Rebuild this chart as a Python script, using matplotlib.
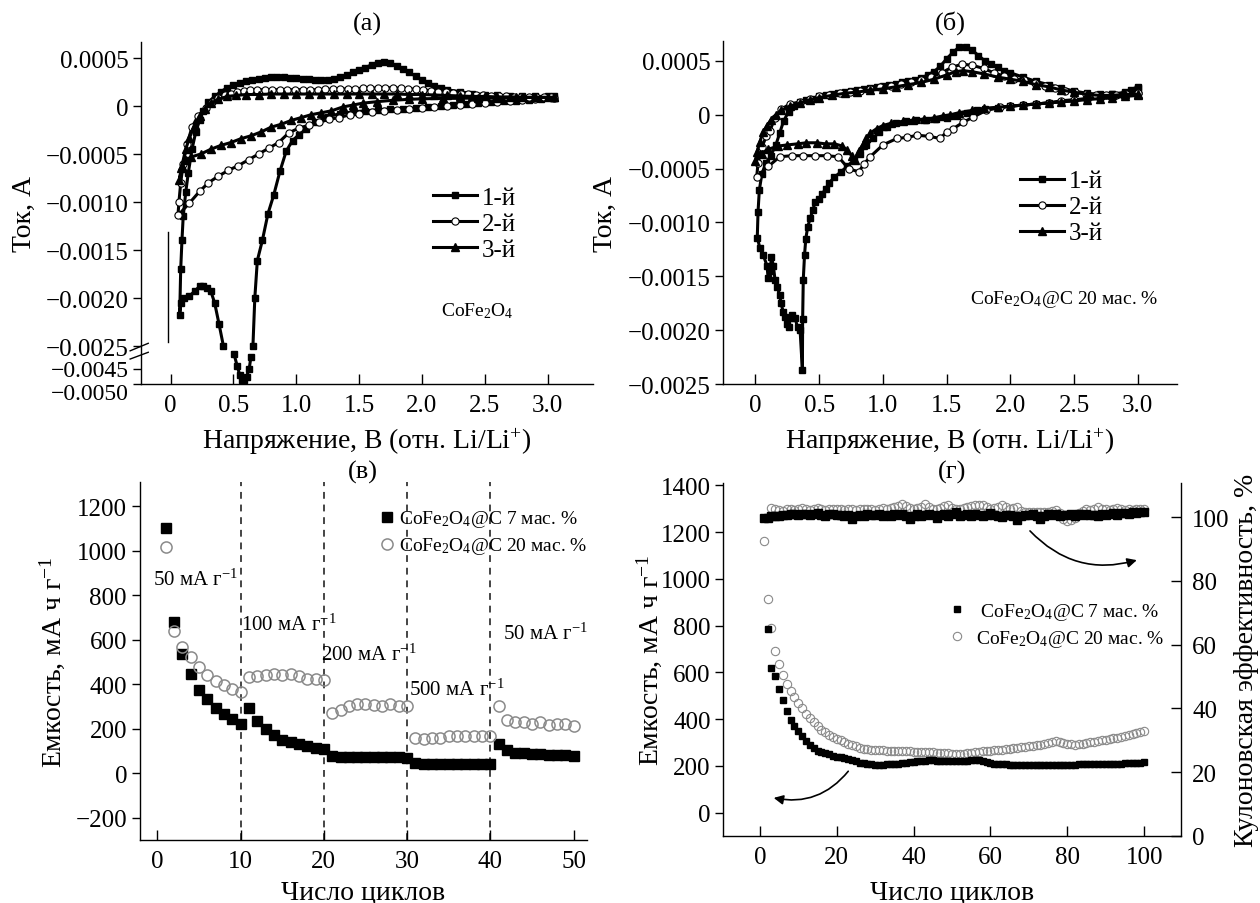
import numpy as np
import matplotlib
matplotlib.use('Agg')
import matplotlib.pyplot as plt
from matplotlib.transforms import ScaledTranslation

plt.rcParams['font.family'] = ['Liberation Serif', 'DejaVu Serif']
plt.rcParams['mathtext.fontset'] = 'custom'
plt.rcParams['mathtext.rm'] = 'Liberation Serif'
plt.rcParams['mathtext.it'] = 'Liberation Serif:italic'
plt.rcParams['mathtext.bf'] = 'Liberation Serif:bold'
nan = np.nan

# ---------------- Panel (а): CoFe2O4 CV, current in 1e-4 A ----------------
a1_v = [3.05, 2.95, 2.85, 2.75, 2.65, 2.55, 2.45, 2.35, 2.25, 2.15, 2.05, 1.95, 1.85, 1.75,
        1.65, 1.55, 1.45, 1.35, 1.25, 1.15, 1.08, 1.02, 0.97, 0.92, 0.87, 0.82, 0.775, 0.73,
        0.69, 0.67, 0.655, nan,
        0.639, 0.625, 0.605, 0.585, 0.567, 0.55, 0.53, 0.504, nan,
        0.42, 0.385, 0.35, 0.32, 0.29, 0.26, 0.23, 0.19, 0.15, 0.11, 0.08, 0.072,
        0.08, 0.09, 0.10, 0.12, 0.14, 0.17, 0.20, 0.23, 0.26, 0.30, 0.35, 0.40, 0.45, 0.50,
        0.55, 0.60, 0.65, 0.70, 0.75, 0.80, 0.85, 0.90, 0.95, 1.00, 1.05, 1.10, 1.15, 1.20,
        1.25, 1.30, 1.35, 1.40, 1.45, 1.50, 1.55, 1.60, 1.65, 1.70, 1.75, 1.80, 1.85, 1.90,
        1.95, 2.00, 2.05, 2.10, 2.15, 2.20, 2.30, 2.40, 2.50, 2.60, 2.70, 2.80, 2.90, 3.00, 3.05]
a1_i = [0.8, 0.7, 0.6, 0.5, 0.5, 0.4, 0.3, 0.2, 0.1, 0.0, -0.1, -0.2, -0.3, -0.3,
        -0.4, -0.5, -0.6, -0.8, -1.1, -1.7, -2.4, -3.0, -3.6, -4.7, -6.8, -9.3, -11.2, -14.0,
        -16.1, -20.0, -25.0, nan,
        -41.0, -45.0, -47.5, -48.5, -48.5, -47.0, -44.0, -40.0, nan,
        -25.0, -22.7, -20.5, -19.3, -19.0, -18.7, -18.8, -19.3, -19.8, -20.0, -20.5, -21.8,
        -17.0, -14.0, -11.5, -9.0, -7.0, -4.5, -2.7, -1.5, -0.5, 0.4, 1.0, 1.5, 1.9, 2.2,
        2.4, 2.6, 2.7, 2.8, 2.9, 3.0, 3.0, 3.0, 2.9, 2.9, 2.8, 2.8, 2.7, 2.7,
        2.7, 2.8, 3.0, 3.2, 3.5, 3.8, 4.0, 4.3, 4.5, 4.6, 4.5, 4.2, 3.9, 3.5,
        3.1, 2.7, 2.4, 2.1, 1.9, 1.7, 1.5, 1.3, 1.2, 1.1, 1.0, 1.0, 1.0, 1.0, 1.0]

a2_v = [3.05, 2.9, 2.8, 2.7, 2.6, 2.5, 2.4, 2.3, 2.2, 2.1, 2.0, 1.9, 1.8, 1.7, 1.6, 1.5,
        1.43, 1.34, 1.26, 1.18, 1.10, 1.02, 0.94, 0.86, 0.78, 0.70, 0.62, 0.54, 0.46, 0.38,
        0.30, 0.23, 0.15, 0.058,
        0.066, 0.08, 0.10, 0.13, 0.17, 0.22, 0.28, 0.33, 0.38, 0.43, 0.48, 0.53, 0.58, 0.63,
        0.69, 0.75, 0.81, 0.87, 0.93, 0.99, 1.05, 1.11, 1.17, 1.23, 1.29, 1.35, 1.41, 1.47,
        1.53, 1.59, 1.65, 1.71, 1.77, 1.83, 1.89, 1.95, 2.01, 2.07, 2.13, 2.19, 2.25, 2.31,
        2.37, 2.43, 2.49, 2.55, 2.61, 2.67, 2.73, 2.79, 2.85, 2.91, 2.97, 3.03]
a2_i = [0.8, 0.7, 0.6, 0.5, 0.4, 0.3, 0.2, 0.1, 0.0, -0.1, -0.2, -0.3, -0.4, -0.5, -0.6, -0.8,
        -0.9, -1.2, -1.4, -1.7, -2.0, -2.3, -2.8, -3.8, -4.4, -5.0, -5.6, -6.2, -6.7, -7.3,
        -8.0, -8.9, -10.1, -11.4,
        -10.0, -8.0, -6.0, -4.0, -2.2, -1.0, -0.2, 0.4, 0.8, 1.1, 1.3, 1.5, 1.6, 1.7,
        1.7, 1.7, 1.7, 1.7, 1.7, 1.7, 1.7, 1.7, 1.7, 1.75, 1.75, 1.75, 1.8, 1.8,
        1.85, 1.85, 1.9, 1.9, 1.9, 1.85, 1.8, 1.75, 1.7, 1.6, 1.5, 1.45, 1.4, 1.3,
        1.25, 1.2, 1.1, 1.05, 1.0, 1.0, 0.95, 0.9, 0.9, 0.9, 0.9, 0.95]

a3_v = [3.05, 2.9, 2.75, 2.6, 2.45, 2.3, 2.17, 2.0, 1.9, 1.77, 1.64, 1.53, 1.45, 1.37,
        1.28, 1.20, 1.12, 1.04, 0.96, 0.88, 0.80, 0.72, 0.64, 0.56, 0.48, 0.40, 0.32, 0.24,
        0.165, 0.12, 0.085, 0.07,
        0.09, 0.12, 0.15, 0.19, 0.23, 0.27, 0.32, 0.38, 0.45, 0.52, 0.60, 0.70, 0.80, 0.90,
        1.00, 1.10, 1.20, 1.30, 1.40, 1.50, 1.60, 1.70, 1.80, 1.90, 2.00, 2.10, 2.20, 2.30,
        2.40, 2.50, 2.60, 2.70, 2.80, 2.90, 3.00, 3.05]
a3_i = [0.9, 0.9, 0.9, 0.85, 0.85, 0.8, 0.8, 0.75, 0.7, 0.6, 0.45, 0.3, 0.1, -0.1,
        -0.5, -0.7, -0.9, -1.2, -1.5, -1.9, -2.2, -2.7, -3.1, -3.4, -3.8, -4.1, -4.5, -5.0,
        -5.3, -5.6, -6.5, -7.7,
        -6.2, -4.5, -3.3, -2.0, -1.0, -0.3, 0.3, 0.7, 1.0, 1.1, 1.2, 1.2, 1.25, 1.25,
        1.25, 1.25, 1.25, 1.25, 1.25, 1.25, 1.25, 1.25, 1.25, 1.2, 1.2, 1.15, 1.1, 1.05,
        1.0, 1.0, 0.95, 0.95, 0.9, 0.9, 0.9, 0.9]

# thin vertical mark in panel (а)
a_mark_v = [-0.021, -0.021]
a_mark_i = [-13.1, -24.6]

# ---------------- Panel (б): CoFe2O4@C 20 wt.% CV, 1e-4 A ----------------
b1_v = [3.0, 2.9, 2.8, 2.7, 2.6, 2.5, 2.4, 2.3, 2.2, 2.1, 2.0, 1.9, 1.8, 1.74, 1.66, 1.58,
        1.5, 1.42, 1.34, 1.26, 1.18, 1.1, 1.03, 0.97, 0.92, 0.87, 0.82, 0.77, 0.72, 0.67,
        0.62, 0.58, 0.55, 0.52, 0.5, 0.47, 0.45, 0.43, 0.41, 0.395, 0.385, 0.375, 0.37, 0.368,
        0.35, 0.33, 0.31, 0.29, 0.27, 0.26, 0.245, 0.23, 0.218, 0.2, 0.19, 0.17, 0.153, 0.14,
        0.125, 0.115, 0.1, 0.09, 0.06, 0.035, 0.014,
        0.02, 0.03, 0.05, 0.08, 0.12, 0.16, 0.19, 0.22, 0.26, 0.30, 0.35, 0.40, 0.45, 0.50,
        0.55, 0.60, 0.65, 0.70, 0.75, 0.80, 0.85, 0.90, 0.95, 1.00, 1.05, 1.10, 1.15, 1.20,
        1.25, 1.30, 1.35, 1.40, 1.45, 1.50, 1.55, 1.60, 1.65, 1.70, 1.75, 1.80, 1.85, 1.90,
        1.95, 2.00, 2.10, 2.20, 2.30, 2.40, 2.50, 2.60, 2.70, 2.80, 2.90, 2.95, 3.00]
b1_i = [2.6, 2.1, 1.9, 1.7, 1.5, 1.3, 1.2, 1.1, 1.0, 0.9, 0.8, 0.6, 0.5, 0.4, 0.2, -0.1,
        -0.3, -0.4, -0.5, -0.5, -0.6, -0.8, -1.1, -1.6, -2.2, -2.8, -3.6, -4.2, -4.8, -5.3,
        -5.8, -6.3, -6.9, -7.4, -7.8, -8.1, -8.8, -9.6, -10.4, -11.5, -13.0, -15.3, -19.0, -23.7,
        -20.0, -19.7, -18.9, -18.6, -18.9, -19.7, -19.4, -18.8, -18.3, -17.5, -16.7, -16.0, -15.3, -14.0,
        -13.2, -14.5, -15.2, -14.0, -13.0, -12.4, -11.4,
        -9.0, -7.0, -5.5, -4.5, -3.8, -2.8, -1.7, -0.6, 0.3, 0.8, 1.2, 1.4, 1.5, 1.7,
        1.8, 1.9, 2.0, 2.1, 2.2, 2.3, 2.4, 2.5, 2.6, 2.7, 2.8, 2.9, 3.0, 3.1,
        3.2, 3.4, 3.7, 4.0, 4.5, 5.2, 5.8, 6.3, 6.3, 6.0, 5.5, 5.0, 4.7, 4.4,
        4.1, 3.9, 3.5, 3.1, 2.8, 2.5, 2.2, 2.0, 1.9, 1.9, 2.0, 2.3, 2.5]

b2_v = [3.0, 2.9, 2.8, 2.7, 2.6, 2.5, 2.4, 2.3, 2.2, 2.1, 2.0, 1.92, 1.81, 1.71, 1.63, 1.55,
        1.5, 1.45, 1.36, 1.27, 1.19, 1.11, 1.0, 0.9, 0.85, 0.81, 0.73, 0.65, 0.56, 0.47,
        0.375, 0.284, 0.19, 0.1, 0.009,
        0.02, 0.05, 0.085, 0.114, 0.15, 0.2, 0.27, 0.35, 0.43, 0.5, 0.58, 0.66, 0.74, 0.82,
        0.9, 0.98, 1.06, 1.14, 1.22, 1.3, 1.38, 1.46, 1.54, 1.62, 1.7, 1.79, 1.87, 1.95,
        2.03, 2.11, 2.19, 2.27, 2.35, 2.43, 2.51, 2.59, 2.67, 2.75, 2.83, 2.91, 3.0]
b2_i = [2.0, 1.8, 1.7, 1.6, 1.5, 1.4, 1.3, 1.1, 1.0, 0.9, 0.8, 0.7, 0.4, -0.2, -0.7, -1.3,
        -1.6, -2.2, -2.0, -1.9, -2.1, -2.2, -2.8, -3.9, -4.6, -5.3, -5.0, -3.9, -3.8, -3.8,
        -3.8, -3.8, -3.9, -4.8, -5.8,
        -4.5, -3.0, -2.0, -1.5, -0.3, 0.5, 1.0, 1.2, 1.5, 1.7, 1.85, 2.0, 2.15, 2.25,
        2.4, 2.55, 2.7, 2.85, 3.0, 3.2, 3.5, 3.9, 4.4, 4.7, 4.6, 4.3, 3.9, 3.6,
        3.35, 3.2, 2.95, 2.7, 2.45, 2.25, 2.1, 1.95, 1.85, 1.8, 1.8, 1.9, 2.0]

b3_v = [3.0, 2.9, 2.8, 2.7, 2.6, 2.5, 2.4, 2.3, 2.2, 2.1, 2.0, 1.9, 1.79, 1.7, 1.6, 1.53,
        1.47, 1.4, 1.32, 1.24, 1.16, 1.06, 1.0, 0.95, 0.9, 0.87, 0.84, 0.81, 0.78, 0.755,
        0.72, 0.68, 0.62, 0.55, 0.48, 0.4, 0.33, 0.25, 0.18, 0.1, 0.05, 0.0,
        0.01, 0.035, 0.06, 0.09, 0.12, 0.16, 0.2, 0.27, 0.35, 0.43, 0.5, 0.6, 0.7, 0.8,
        0.9, 1.0, 1.1, 1.2, 1.3, 1.4, 1.5, 1.57, 1.63, 1.7, 1.79, 1.9, 2.0, 2.1,
        2.2, 2.3, 2.4, 2.5, 2.6, 2.7, 2.8, 2.9, 3.0]
b3_i = [1.8, 1.7, 1.6, 1.5, 1.4, 1.3, 1.2, 1.1, 1.0, 0.9, 0.8, 0.7, 0.6, 0.4, 0.2, 0.0,
        -0.1, -0.3, -0.4, -0.5, -0.6, -0.8, -1.0, -1.3, -1.7, -2.2, -2.8, -3.4, -4.2, -3.8,
        -3.3, -2.9, -2.7, -2.7, -2.6, -2.6, -2.7, -2.8, -2.9, -3.2, -3.6, -4.3,
        -3.5, -2.5, -1.6, -1.0, -0.5, 0.0, 0.4, 0.8, 1.1, 1.4, 1.6, 1.8, 2.0, 2.1,
        2.3, 2.4, 2.6, 2.8, 3.0, 3.3, 3.7, 4.0, 4.1, 4.0, 3.8, 3.5, 3.3, 3.1,
        2.8, 2.6, 2.3, 2.1, 1.9, 1.8, 1.8, 1.9, 1.9]

cv_labels = ['1-й', '2-й', '3-й']
cv_ticks_x = [0, 0.5, 1.0, 1.5, 2.0, 2.5, 3.0]
cv_ticklabels_x = ['0', '0.5', '1.0', '1.5', '2.0', '2.5', '3.0']
a_ticks_y = [0.0005, 0, -0.0005, -0.0010, -0.0015, -0.0020, -0.0025, -0.0045, -0.0050]
a_ticklabels_y = ['0.0005', '0', '−0.0005', '−0.0010', '−0.0015', '−0.0020', '−0.0025',
                  '−0.0045', '−0.0050']
b_ticks_y = [0.0005, 0, -0.0005, -0.0010, -0.0015, -0.0020, -0.0025]
b_ticklabels_y = ['0.0005', '0', '−0.0005', '−0.0010', '−0.0015', '−0.0020', '−0.0025']

# ---------------- Panel (в): rate capability ----------------
c_cycles = np.arange(1, 51)
c_cap7 = [1100, 677, 535, 445, 374, 333, 291, 265, 243, 220,
          295, 235, 198, 171, 150, 138, 130, 123, 115, 108,
          78, 75, 74, 74, 73, 73, 73, 72, 72, 70,
          45, 43, 43, 42, 42, 42, 42, 42, 42, 42,
          130, 103, 93, 90, 88, 86, 84, 82, 80, 78]
c_cap20 = [1014, 640, 565, 520, 475, 440, 415, 395, 377, 363,
           430, 437, 440, 445, 440, 445, 437, 422, 425, 419,
           270, 285, 303, 310, 313, 307, 303, 310, 303, 300,
           160, 153, 157, 160, 165, 165, 168, 168, 168, 165,
           300, 240, 228, 228, 220, 228, 217, 220, 220, 210]
c_rate_bounds = [10, 20, 30, 40]
c_rate_text = ['50 мА г$^{-1}$', '100 мА г$^{-1}$', '200 мА г$^{-1}$',
               '500 мА г$^{-1}$', '50 мА г$^{-1}$']
c_rate_x = [-0.5, 10.0, 19.65, 30.2, 41.5]
c_rate_y = [845, 643, 508, 351, 602]
series_labels = ['CoFe$_2$O$_4$@C 7 мас. %', 'CoFe$_2$O$_4$@C 20 мас. %']

# ---------------- Panel (г): cycling + coulombic efficiency ----------------
d_cycles7 = np.arange(2, 101)
d_cap7 = [784, 620, 584, 530, 480, 434, 398, 370, 348,
          327, 305, 291, 277, 265, 260, 255, 249, 244, 240,
          237, 232, 228, 225, 220, 214, 211, 209, 207, 205,
          203, 204, 206, 207, 208, 210, 212, 213, 215, 217,
          220, 221, 222, 223, 223, 222, 221, 220, 220, 220,
          220, 220, 221, 222, 223, 223, 223, 221, 218, 214,
          210, 207, 206, 206, 205, 205, 204, 204, 204, 204,
          204, 204, 203, 203, 203, 203, 203, 203, 203, 204,
          204, 205, 206, 206, 207, 207, 207, 208, 208, 208,
          209, 209, 210, 210, 211, 211, 212, 213, 214, 215]
d_cycles20 = np.arange(1, 101)
d_cap20 = [1160, 912, 791, 691, 634, 587, 552, 520, 495, 470,
           448, 424, 405, 387, 370, 355, 343, 330, 322, 316,
           310, 302, 295, 289, 283, 278, 274, 271, 269, 268,
           267, 266, 265, 264, 264, 263, 263, 262, 262, 261,
           260, 260, 259, 258, 258, 257, 256, 255, 254, 252,
           251, 251, 252, 254, 256, 258, 260, 262, 263, 265,
           266, 267, 269, 271, 273, 275, 277, 279, 281, 284,
           286, 289, 291, 294, 298, 303, 306, 303, 297, 294,
           292, 291, 292, 294, 297, 300, 303, 306, 309, 312,
           315, 318, 321, 325, 329, 333, 337, 341, 345, 349]
d_ce_cycles7 = np.arange(1, 101)
d_ce7 = [99.6, 99.8, 100.2, 100.5, 100.4, 100.8, 100.6, 100.9, 101.0, 100.7,
         101.1, 100.9, 100.6, 101.0, 101.4, 100.8, 100.5, 100.9, 101.0, 100.6,
         100.8, 100.4, 100.7, 99.4, 100.3, 100.8, 100.5, 101.0, 100.6, 100.7,
         101.0, 100.5, 100.8, 100.4, 100.9, 100.6, 101.0, 100.3, 99.3, 100.5,
         100.9, 100.2, 100.7, 101.0, 100.6, 99.6, 100.8, 101.1, 100.5, 100.9,
         101.5, 100.4, 100.7, 100.9, 100.3, 101.0, 100.6, 100.2, 100.8, 101.4,
         100.7, 100.5, 100.1, 100.8, 100.6, 100.2, 99.2, 100.4, 100.8, 100.6,
         100.9, 100.3, 99.3, 100.5, 100.9, 100.7, 101.0, 100.4, 100.8, 100.6,
         101.0, 100.5, 100.9, 100.7, 101.1, 100.6, 100.8, 100.4, 101.0, 100.7,
         101.1, 101.3, 100.8, 101.2, 101.4, 101.1, 101.5, 101.3, 101.6, 101.7]
d_ce_cycles20 = np.arange(3, 101)
d_ce20 = [102.8, 102.5, 102.2, 102.0, 102.4, 102.6, 102.3, 102.5,
          102.8, 102.4, 102.2, 102.6, 102.9, 102.5, 102.3, 102.6, 102.4, 102.7,
          102.5, 102.3, 102.6, 102.4, 102.2, 102.5, 102.7, 102.4, 102.6, 102.3,
          102.5, 102.8, 102.4, 102.9, 103.2, 103.6, 104.0, 103.4, 102.8, 102.6,
          103.0, 103.3, 104.0, 103.2, 102.7, 102.5, 102.9, 103.5, 103.9, 103.0,
          102.6, 102.4, 102.8, 103.1, 103.6, 103.9, 103.7, 103.9, 103.2, 102.6,
          102.8, 103.3, 103.8, 103.2, 102.7, 102.9, 103.3, 101.8, 101.6, 101.6,
          101.7, 101.6, 101.6, 101.7, 101.6, 101.8, 102.3, 101.4, 99.5, 98.9,
          99.1, 99.8, 101.2, 102.0, 102.4, 102.3, 102.7, 103.2, 102.6, 102.4,
          102.2, 102.5, 102.8, 102.4, 102.2, 102.6, 102.3, 102.5, 102.7, 102.4]
# arrow anchors (cycle, capacity on left axis)
d_arrow_right = [(70.3, 1205), (98.1, 1080)]
d_arrow_left = [(23.0, 177), (3.6, 63)]

# ---------------- figure ----------------
fig = plt.figure(figsize=(12.6, 9.04), dpi=100)
W, H = 1260.0, 904.0


def rect(l, r, t, b):
    return [l / W, 1 - b / H, (r - l) / W, (b - t) / H]


TICK = 18
LAB = 20
GRAY = '#8a8a8a'


def style_axes(ax, right=False):
    ax.spines['top'].set_visible(False)
    if not right:
        ax.spines['right'].set_visible(False)
    for s in ax.spines.values():
        s.set_linewidth(1.0)
    ax.tick_params(axis='x', direction='in', length=7, width=1, pad=7, labelsize=TICK)
    ax.tick_params(axis='y', direction='out', length=6, width=1, pad=3, labelsize=TICK)


line_kw = dict(color='black', lw=2.2)
m1 = dict(marker='s', ms=4.6, mfc='black', mec='black')
m2 = dict(marker='o', ms=5.2, mfc='white', mec='black', mew=0.8)
m3 = dict(marker='^', ms=5.2, mfc='black', mec='black')
leg_kw = dict(loc='upper left', frameon=False, fontsize=18, handlelength=1.75,
              handletextpad=0.2, labelspacing=0.14, borderpad=0, borderaxespad=0, numpoints=1)

# ---- (а) ----
axA = fig.add_axes(rect(141, 593, 43, 385))
B0, B1 = -0.0025, -0.0040
A1, A2 = 0.05556, 0.3125
Z1 = B0 + (B1 - B0) * A1


def fwd(y):
    y = np.asarray(y, dtype=float)
    return np.where(y >= B0, y, np.where(y >= B1, B0 + (y - B0) * A1, Z1 + (y - B1) * A2))


def inv(z):
    z = np.asarray(z, dtype=float)
    return np.where(z >= B0, z, np.where(z >= Z1, B0 + (z - B0) / A1, B1 + (z - Z1) / A2))


axA.set_yscale('function', functions=(fwd, inv))
hA1, = axA.plot(a1_v, np.array(a1_i) * 1e-4, **line_kw, **m1)
hA2, = axA.plot(a2_v, np.array(a2_i) * 1e-4, **line_kw, **m2)
hA3, = axA.plot(a3_v, np.array(a3_i) * 1e-4, **line_kw, **m3)
axA.plot(a_mark_v, np.array(a_mark_i) * 1e-4, color='black', lw=1.0)
axA.set_xlim(-0.236, 3.362)
axA.set_ylim(-0.0050, 0.000667)
axA.set_yticks(a_ticks_y)
axA.set_yticklabels(a_ticklabels_y)
axA.set_xticks(cv_ticks_x)
axA.set_xticklabels(cv_ticklabels_x)
axA.minorticks_off()
style_axes(axA)
ylabs = axA.get_yticklabels()
for lbl, dy in ((ylabs[-2], 0.01), (ylabs[-1], -0.065)):
    lbl.set_fontsize(17)
    lbl.set_transform(lbl.get_transform() + ScaledTranslation(0, dy, fig.dpi_scale_trans))
# axis-break marks
for (y0, y1) in [(0.097, 0.119), (0.073, 0.0927)]:
    axA.plot([-0.024, 0.016], [y0, y1], transform=axA.transAxes, color='black',
             lw=1.0, clip_on=False)
axA.text(2.155, -0.00218, 'CoFe$_2$O$_4$', fontsize=14, ha='left', va='baseline')
axA.legend([hA1, hA2, hA3], cv_labels, bbox_to_anchor=(0.646, 0.578), **leg_kw)
axA.set_title('(а)', fontsize=19, y=1.053, va='center', pad=0)
axA.set_ylabel('Ток, А', fontsize=LAB, va='center')
axA.yaxis.set_label_coords(-0.259, 0.5)
axA.set_xlabel('Напряжение, В (отн. Li/Li$^{+}$)', fontsize=LAB, va='center')
axA.xaxis.set_label_coords(0.5, -0.166)

# ---- (б) ----
axB = fig.add_axes(rect(723, 1177, 42, 385))
hB1, = axB.plot(b1_v, np.array(b1_i) * 1e-4, **line_kw, **m1)
hB2, = axB.plot(b2_v, np.array(b2_i) * 1e-4, **line_kw, **m2)
hB3, = axB.plot(b3_v, np.array(b3_i) * 1e-4, **line_kw, **m3)
axB.set_xlim(-0.255, 3.308)
axB.set_ylim(-0.0025, 0.000685)
axB.set_yticks(b_ticks_y)
axB.set_yticklabels(b_ticklabels_y)
axB.set_xticks(cv_ticks_x)
axB.set_xticklabels(cv_ticklabels_x)
style_axes(axB)
axB.text(1.684, -0.00175, 'CoFe$_2$O$_4$@C 20 мас. %', fontsize=14, ha='left', va='baseline')
axB.legend([hB1, hB2, hB3], cv_labels, bbox_to_anchor=(0.654, 0.624), **leg_kw)
axB.set_title('(б)', fontsize=19, y=1.055, va='center', pad=0)
axB.set_ylabel('Ток, А', fontsize=LAB, va='center')
axB.yaxis.set_label_coords(-0.26, 0.5)
axB.set_xlabel('Напряжение, В (отн. Li/Li$^{+}$)', fontsize=LAB, va='center')
axB.xaxis.set_label_coords(0.5, -0.166)

# ---- (в) ----
axC = fig.add_axes(rect(139.5, 587, 483, 841))
for xb in c_rate_bounds:
    axC.axvline(xb, color='#444444', lw=1.4, ls=(0, (3.5, 3)), zorder=1)
hC1, = axC.plot(c_cycles, c_cap7, ls='none', marker='s', ms=7.5, mfc='black', mec='black',
                label=series_labels[0], zorder=3)
hC2, = axC.plot(c_cycles, c_cap20, ls='none', marker='o', ms=8, mfc='none', mec=GRAY,
                mew=1.1, label=series_labels[1], zorder=3)
for t, x, y in zip(c_rate_text, c_rate_x, c_rate_y):
    axC.text(x, y, t, fontsize=15, ha='left', va='baseline', zorder=4)
axC.set_xlim(-2.14, 51.6)
axC.set_ylim(-300, 1308)
axC.set_yticks([-200, 0, 200, 400, 600, 800, 1000, 1200])
axC.set_yticklabels(['−200', '0', '200', '400', '600', '800', '1000', '1200'])
axC.set_xticks([0, 10, 20, 30, 40, 50])
style_axes(axC)
axC.legend(loc='upper left', bbox_to_anchor=(0.535, 0.926), frameon=False, fontsize=14,
           handlelength=0.8, handletextpad=0.25, labelspacing=0.3, borderpad=0,
           borderaxespad=0)
axC.set_title('(в)', fontsize=19, y=1.030, va='center', pad=0)
axC.set_ylabel('Емкость, мА ч г$^{-1}$', fontsize=LAB, va='center')
axC.yaxis.set_label_coords(-0.196, 0.5)
axC.set_xlabel('Число циклов', fontsize=LAB, va='center')
axC.xaxis.set_label_coords(0.5, -0.145)

# ---- (г) ----
axD = fig.add_axes(rect(723, 1181, 484, 837))
axD2 = axD.twinx()
hD1, = axD.plot(d_cycles7, d_cap7, ls='none', marker='s', ms=4.6, mfc='black', mec='black',
                label=' ' + series_labels[0], zorder=3)
hD2, = axD.plot(d_cycles20, d_cap20, ls='none', marker='o', ms=6, mfc='none', mec=GRAY,
                mew=0.8, label=series_labels[1], zorder=2)
axD2.plot(d_ce_cycles20, d_ce20, ls='none', marker='o', ms=6, mfc='none', mec=GRAY, mew=0.8)
axD2.plot(d_ce_cycles7, d_ce7, ls='none', marker='s', ms=5.6, mfc='black', mec='black')
axD.set_xlim(-9.6, 109.6)
axD.set_ylim(-100, 1410)
axD2.set_ylim(0, 110.7)
axD.set_yticks([0, 200, 400, 600, 800, 1000, 1200, 1400])
axD.set_xticks([0, 20, 40, 60, 80, 100])
axD2.set_yticks([0, 20, 40, 60, 80, 100])
style_axes(axD)
axD.spines['right'].set_visible(False)
axD2.spines['top'].set_visible(False)
axD2.spines['left'].set_visible(False)
axD2.spines['bottom'].set_visible(False)
axD2.spines['right'].set_linewidth(1.0)
axD2.tick_params(axis='y', direction='in', length=7, width=1, pad=8, labelsize=TICK)
(sa, ea), (sb, eb) = d_arrow_right, d_arrow_left
axD.annotate('', xy=ea, xytext=sa,
             arrowprops=dict(arrowstyle='-|>', color='black', lw=1.2, mutation_scale=14,
                             connectionstyle='arc3,rad=0.3', shrinkA=0, shrinkB=0))
axD.annotate('', xy=eb, xytext=sb,
             arrowprops=dict(arrowstyle='-|>', color='black', lw=1.2, mutation_scale=14,
                             connectionstyle='arc3,rad=-0.3', shrinkA=0, shrinkB=0))
axD.legend(handles=[hD1, hD2], loc='upper left', bbox_to_anchor=(0.494, 0.666),
           frameon=False, fontsize=14, handlelength=0.8, handletextpad=0.6,
           labelspacing=0.3, borderpad=0, borderaxespad=0)
axD.set_title('(г)', fontsize=19, y=1.033, va='center', pad=0)
axD.set_ylabel('Емкость, мА ч г$^{-1}$', fontsize=LAB, va='center')
axD.yaxis.set_label_coords(-0.162, 0.5)
axD2.set_ylabel('Кулоновская эффективность, %', fontsize=LAB, va='center', rotation=90)
axD2.yaxis.set_label_coords(1.144, 0.5)
axD.set_xlabel('Число циклов', fontsize=LAB, va='center')
axD.xaxis.set_label_coords(0.5, -0.159)

fig.savefig('out.png', dpi=100)
